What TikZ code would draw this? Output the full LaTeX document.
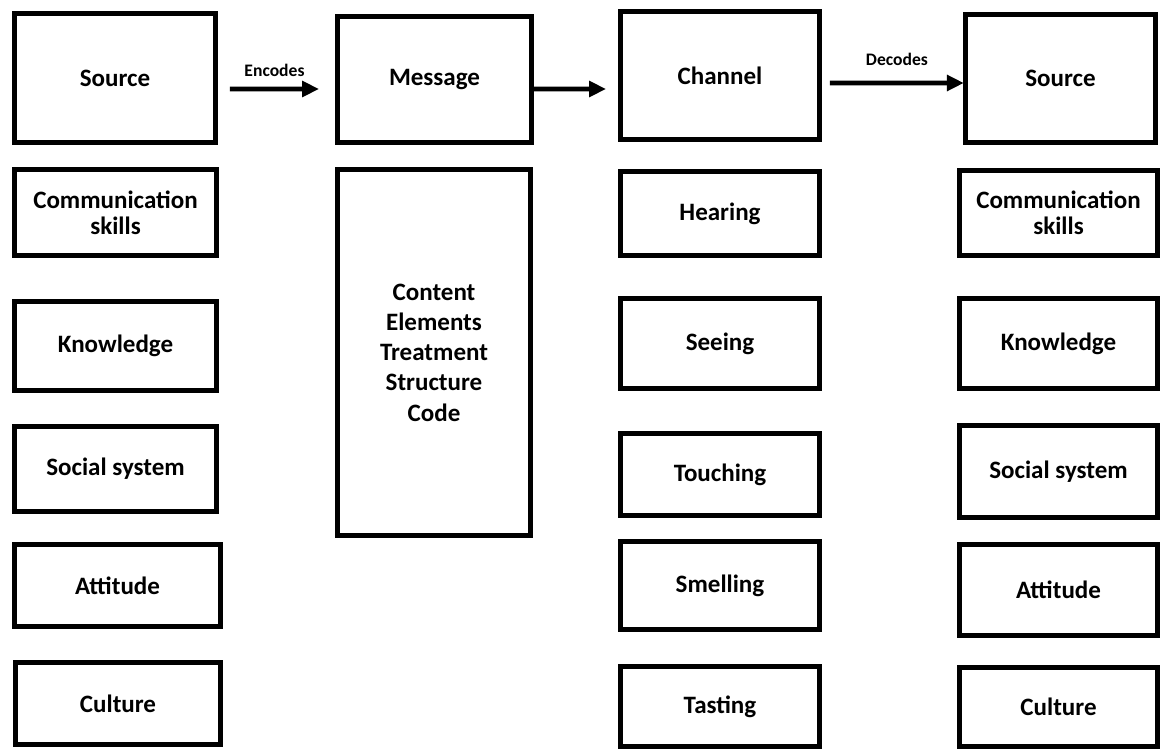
\documentclass[tikz,border=0pt]{standalone}
\usepackage{fontspec}
\setmainfont{Carlito}
\usetikzlibrary{arrows.meta,positioning}

\begin{document}
\begin{tikzpicture}[
  x=0.025cm, y=-0.025cm,
  box/.style={
    draw, rectangle, line width=3.5pt,
    minimum width=5.05cm, minimum height=2.15cm, inner sep=1pt,
    align=center, font=\bfseries\fontsize{17.8}{18.6}\selectfont
  },
  head/.style={box, minimum height=3.2cm},
  arr/.style={-{Triangle[length=12pt,width=11pt]}, line width=3.3pt},
  lbl/.style={font=\bfseries\fontsize{12.5}{14}\selectfont, inner sep=1pt}
]
\useasboundingbox (0,0) rectangle (1160,749);

% sender
\node[head, minimum width=5.025cm, minimum height=3.225cm] (src1) at (115,78) {Source};
\node[box] (csk1) at (115.5,212.5) {Communication\\skills};
\node[box, minimum height=2.225cm] (kn1) at (115.5,346) {Knowledge};
\node[box, minimum height=2.125cm] (soc1) at (115.5,469) {Social system};
\node[box, minimum width=5.15cm, minimum height=2.05cm] (att1) at (117.5,585.5) {Attitude};
\node[box, minimum width=5.125cm, minimum height=2.05cm] (cul1) at (118,703.5) {Culture};

% message
\node[head, minimum width=4.85cm, minimum height=3.15cm] (msg) at (434.5,79.5) {Message};
\node[box, minimum width=4.825cm, minimum height=9.15cm,
      font=\bfseries\fontsize{17.8}{21.5}\selectfont] (cnt) at (434,352.5)
      {Content\\Elements\\Treatment\\Structure\\Code};

% channel
\node[head, minimum width=4.975cm] (chn) at (720,75.5) {Channel};
\node[box, minimum width=4.975cm, minimum height=2.1cm] (hear) at (720,213.5) {Hearing};
\node[box, minimum width=4.975cm, minimum height=2.25cm] (see) at (720,343.5) {Seeing};
\node[box, minimum width=4.975cm, minimum height=2.05cm] (touch) at (720,474.5) {Touching};
\node[box, minimum width=4.975cm, minimum height=2.2cm] (smell) at (720,585.5) {Smelling};
\node[box, minimum width=4.975cm, minimum height=2.0cm] (taste) at (720,706.5) {Tasting};

% receiver
\node[head, minimum width=4.75cm] (src2) at (1060.5,78.5) {Source};
\node[box, minimum width=4.95cm, minimum height=2.125cm] (csk2) at (1058.5,213) {Communication\\skills};
\node[box, minimum width=4.95cm, minimum height=2.25cm] (kn2) at (1058.5,343.5) {Knowledge};
\node[box, minimum width=4.95cm, minimum height=2.3cm] (soc2) at (1058.5,471.5) {Social system};
\node[box, minimum width=4.95cm, minimum height=2.275cm] (att2) at (1058.5,590) {Attitude};
\node[box, minimum width=4.95cm, minimum height=1.975cm] (cul2) at (1058.5,707) {Culture};

\draw[arr] ([xshift=0.3cm,yshift=-0.275cm]src1.east) -- ([xshift=-0.4cm,yshift=-0.2375cm]msg.west)
  node[lbl, midway, above=6pt] {Encodes};
\draw[arr] ([yshift=-0.2375cm]msg.east) -- ([xshift=-0.3cm,yshift=-0.3375cm]chn.west);
\draw[arr] ([xshift=0.2cm,yshift=-0.1875cm]chn.east) -- ([xshift=0.02cm,yshift=-0.1125cm]src2.west)
  node[lbl, midway, above=10pt] {Decodes};

\end{tikzpicture}
\end{document}
